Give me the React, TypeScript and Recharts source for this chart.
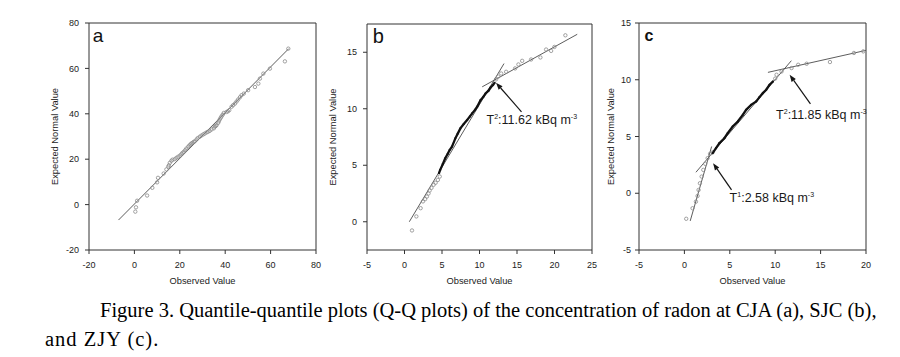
import React from 'react';
import { ScatterChart, Scatter, XAxis, YAxis, ReferenceLine, ReferenceDot } from 'recharts';

const SANS = '"Liberation Sans", Arial, Helvetica, sans-serif';
const SERIF = '"Liberation Serif", "Times New Roman", Times, serif';
const W = 900;
const H = 357;

// ---------- Panel a (CJA) ----------
const aObserved = [0.4, 0.7, 1.2, 5.6, 7.9, 10.0, 10.4, 12.9, 14.1, 14.9, 15.2, 15.6, 16.3, 16.8, 17.8, 18.5, 19.3, 20.1, 20.7, 21.2, 21.8, 22.4, 22.9, 23.7, 24.2, 24.7, 25.1, 25.6, 26.1, 26.6, 27.4, 27.9, 28.8, 29.5, 30.3, 31.0, 31.8, 32.5, 33.2, 34.0, 35.0, 35.4, 35.8, 36.2, 36.9, 37.2, 37.6, 38.0, 38.4, 38.9, 39.4, 40.6, 41.2, 41.8, 42.8, 43.5, 44.3, 45.0, 45.7, 46.5, 47.2, 48.2, 50.1, 53.1, 54.6, 55.3, 56.8, 59.7, 66.3, 67.8];
const aExpected = [-3.1, -1.2, 1.7, 4.0, 7.4, 9.8, 11.8, 13.7, 15.5, 16.7, 17.3, 18.4, 19.3, 19.8, 20.0, 20.6, 21.1, 21.6, 22.2, 22.8, 23.3, 24.0, 24.7, 25.5, 26.0, 26.5, 26.9, 27.2, 27.6, 27.9, 28.7, 29.3, 29.9, 30.4, 30.9, 31.3, 31.8, 32.1, 32.5, 33.1, 33.6, 34.3, 34.6, 35.0, 36.0, 36.7, 37.5, 38.2, 38.9, 39.6, 40.4, 40.8, 41.1, 41.6, 43.1, 43.8, 44.5, 45.4, 46.3, 47.3, 48.2, 48.9, 50.4, 51.8, 53.3, 55.5, 57.7, 59.9, 63.1, 68.7];
const aFits = [{ x1: -7, y1: -6.8, x2: 68, y2: 68.7 }];
const aXTicks = [-20, 0, 20, 40, 60, 80];
const aYTicks = [-20, 0, 20, 40, 60, 80];

// ---------- Panel b (SJC) ----------
const bLowObserved = [1.0, 1.58, 2.15, 2.46, 2.75, 2.99, 3.2, 3.35, 3.6, 3.88, 4.15, 4.45, 4.7];
const bLowExpected = [-0.77, 0.47, 1.2, 1.8, 2.0, 2.23, 2.5, 2.76, 3.0, 3.27, 3.45, 3.7, 4.0];
const bDenseObserved = [4.6, 4.76, 5.1, 5.43, 5.75, 6.02, 6.33, 6.78, 7.1, 7.45, 7.9, 8.35, 8.7, 9.02, 9.4, 9.69, 10.14, 10.5, 10.81, 11.2, 11.48, 11.8, 12.02];
const bDenseExpected = [4.3, 4.59, 5.1, 5.62, 6.0, 6.35, 6.65, 7.38, 7.8, 8.26, 8.65, 9.0, 9.3, 9.59, 9.9, 10.18, 10.76, 11.05, 11.35, 11.6, 11.88, 12.1, 12.29];
const bHighObserved = [12.2, 12.5, 12.89, 13.55, 14.75, 15.19, 15.69, 16.88, 18.12, 18.88, 19.55, 19.99, 21.45];
const bHighExpected = [12.6, 12.85, 13.12, 13.27, 13.57, 13.92, 14.24, 14.36, 14.54, 15.24, 15.12, 15.47, 16.5];
const bFits = [
  { x1: 0.64, y1: 0, x2: 13.27, y2: 14.0 },
  { x1: 10.36, y1: 11.94, x2: 23.03, y2: 16.59 },
];
const bArrows = [{ x1: 15.6, y1: 9.73, x2: 12.2, y2: 12.3 }];
const bNotes = [{ sup: '2', value: '11.62', x: 10.94, y: 8.65 }];
const bXTicks = [-5, 0, 5, 10, 15, 20, 25];
const bYTicks = [0, 5, 10, 15];

// ---------- Panel c (ZJY) ----------
const cLowObserved = [0.2, 0.9, 1.27, 1.45, 1.56, 1.71, 1.9, 2.08, 2.3, 2.56, 2.82, 3.1];
const cLowExpected = [-2.25, -1.32, -0.74, -0.24, 0.29, 0.88, 1.47, 2.06, 2.59, 3.09, 3.47, 3.6];
const cDenseObserved = [3.11, 3.48, 3.85, 4.4, 4.77, 5.32, 5.88, 6.43, 6.8, 7.35, 7.91, 8.27, 8.64, 9.01, 9.38, 9.75];
const cDenseExpected = [3.53, 3.97, 4.41, 4.85, 5.29, 5.88, 6.32, 6.91, 7.35, 7.79, 8.09, 8.47, 8.82, 9.12, 9.56, 9.85];
const cHighObserved = [10.0, 10.15, 10.7, 11.8, 12.53, 13.46, 16.03, 18.67, 19.7];
const cHighExpected = [10.1, 10.44, 10.73, 11.03, 11.32, 11.41, 11.56, 12.36, 12.5];
const cFits = [
  { x1: 0.64, y1: -2.44, x2: 3.0, y2: 4.12 },
  { x1: 1.27, y1: 1.85, x2: 11.78, y2: 11.68 },
  { x1: 9.2, y1: 10.65, x2: 20, y2: 12.59 },
];
const cArrows = [
  { x1: 13.88, y1: 7.88, x2: 11.59, y2: 10.44 },
  { x1: 5.19, y1: 0.29, x2: 3.16, y2: 2.65 },
];
const cNotes = [
  { sup: '2', value: '11.85', x: 10.1, y: 6.5 },
  { sup: '1', value: '2.58', x: 4.98, y: -0.8 },
];
const cXTicks = [-5, 0, 5, 10, 15, 20];
const cYTicks = [-5, 0, 5, 10, 15];

const captionLine1 = 'Figure 3. Quantile-quantile plots (Q-Q plots) of the concentration of radon at CJA (a), SJC (b),';
const captionLine2 = 'and ZJY (c).';

type P = { x: number; y: number };
const zip = (xs: number[], ys: number[]): P[] => xs.map((x, i) => ({ x, y: ys[i] }));

const GrayDot = (p: any) => (
  <circle cx={p.cx} cy={p.cy} r={1.7} fill="none" stroke="#8a8a8a" strokeWidth={0.8} />
);
const DarkDot = (p: any) => <circle cx={p.cx} cy={p.cy} r={1.1} fill="#111" />;

const ArrowShape = (p: any) => {
  const { x1, y1, x2, y2 } = p;
  const dx = x2 - x1;
  const dy = y2 - y1;
  const len = Math.hypot(dx, dy) || 1;
  const ux = dx / len;
  const uy = dy / len;
  const hl = 7;
  const hw = 2.6;
  const bx = x2 - ux * hl;
  const by = y2 - uy * hl;
  const pts = `${x2},${y2} ${bx - uy * hw},${by + ux * hw} ${bx + uy * hw},${by - ux * hw}`;
  return (
    <g>
      <line x1={x1} y1={y1} x2={bx} y2={by} stroke="#151515" strokeWidth={1.2} />
      <polygon points={pts} fill="#151515" />
    </g>
  );
};

const noteShape = (sup: string, value: string) => (p: any) => (
  <text x={p.cx} y={p.cy} fontFamily={SANS} fontSize={12.5} fill="#1a1a1a">
    <tspan>T</tspan>
    <tspan fontSize={7} dy={-5}>{sup}</tspan>
    <tspan dy={5}>{`:${value} kBq m`}</tspan>
    <tspan fontSize={7} dy={-5}>-3</tspan>
  </text>
);

const letterShape = (letter: string, size: number, weight: number) => (p: any) => (
  <text x={p.cx} y={p.cy} fontFamily={SANS} fontSize={size} fontWeight={weight} fill="#111">
    {letter}
  </text>
);

const XTitle = (props: any) => (
  <text x={props.cxPos} y={props.baseY} textAnchor="middle" fontFamily={SANS} fontSize={9.3} fill="#222">
    Observed Value
  </text>
);
const YTitle = (props: any) => (
  <text
    x={props.cxPos}
    y={props.cyPos}
    transform={`rotate(-90 ${props.cxPos} ${props.cyPos})`}
    textAnchor="middle"
    dy="0.35em"
    fontFamily={SANS}
    fontSize={9.3}
    fill="#222"
  >
    Expected Normal Value
  </text>
);

interface Panel {
  id: string;
  letter: string;
  letterPos: [number, number];
  letterSize: number;
  letterWeight: number;
  plot: { l: number; r: number; t: number; b: number };
  xDomain: [number, number];
  yDomain: [number, number];
  xTicks: number[];
  yTicks: number[];
  gray: P[][];
  dense: P[][];
  fits: { x1: number; y1: number; x2: number; y2: number }[];
  arrows: { x1: number; y1: number; x2: number; y2: number }[];
  notes: { sup: string; value: string; x: number; y: number }[];
  yTitleX: number;
  yTickMargin: number;
}

const panels: Panel[] = [
  {
    id: 'a', letter: 'a', letterPos: [-18.4, 71.6], letterSize: 19, letterWeight: 400,
    plot: { l: 89, r: 316, t: 23, b: 250 },
    xDomain: [-20, 80], yDomain: [-20, 80], xTicks: aXTicks, yTicks: aYTicks,
    gray: [zip(aObserved, aExpected)], dense: [], fits: aFits, arrows: [], notes: [],
    yTitleX: 55, yTickMargin: 6,
  },
  {
    id: 'b', letter: 'b', letterPos: [-4.24, 15.8], letterSize: 20, letterWeight: 400,
    plot: { l: 367, r: 592, t: 24, b: 250 },
    xDomain: [-5, 25], yDomain: [-2.5, 17.5], xTicks: bXTicks, yTicks: bYTicks,
    gray: [zip(bLowObserved, bLowExpected), zip(bHighObserved, bHighExpected)],
    dense: [zip(bDenseObserved, bDenseExpected)], fits: bFits, arrows: bArrows, notes: bNotes,
    yTitleX: 333, yTickMargin: 6,
  },
  {
    id: 'c', letter: 'c', letterPos: [-4.4, 13.4], letterSize: 16, letterWeight: 700,
    plot: { l: 639, r: 866, t: 23, b: 250 },
    xDomain: [-5, 20], yDomain: [-5, 15], xTicks: cXTicks, yTicks: cYTicks,
    gray: [zip(cLowObserved, cLowExpected), zip(cHighObserved, cHighExpected)],
    dense: [zip(cDenseObserved, cDenseExpected)], fits: cFits, arrows: cArrows, notes: cNotes,
    yTitleX: 611, yTickMargin: 4,
  },
];

const YW = 50;
const XH = 40;

function PanelChart({ cfg }: { cfg: Panel }) {
  const { plot } = cfg;
  const margin = { top: plot.t, left: plot.l - YW, right: W - plot.r, bottom: H - plot.b - XH };
  const tick = { fill: '#222', fontSize: 9, fontFamily: SANS };
  return (
    <div style={{ position: 'absolute', left: 0, top: 0 }}>
      <ScatterChart width={W} height={H} margin={margin}>
        <XAxis
          type="number"
          dataKey="x"
          domain={cfg.xDomain}
          ticks={cfg.xTicks}
          interval={0}
          allowDataOverflow
          height={XH}
          tickSize={4}
          tickMargin={8}
          stroke="#333"
          tick={tick}
          label={<XTitle cxPos={(plot.l + plot.r) / 2} baseY={284} />}
        />
        <YAxis
          type="number"
          dataKey="y"
          domain={cfg.yDomain}
          ticks={cfg.yTicks}
          interval={0}
          allowDataOverflow
          width={YW}
          tickSize={4}
          tickMargin={cfg.yTickMargin}
          stroke="#333"
          tick={tick}
          label={<YTitle cxPos={cfg.yTitleX} cyPos={(plot.t + plot.b) / 2} />}
        />
        <ReferenceLine y={cfg.yDomain[1]} stroke="#333" strokeWidth={1} />
        <ReferenceLine x={cfg.xDomain[1]} stroke="#333" strokeWidth={1} />
        {cfg.gray.map((d, i) => (
          <Scatter key={`g${i}`} data={d} shape={GrayDot} isAnimationActive={false} />
        ))}
        {cfg.dense.map((d, i) => (
          <Scatter
            key={`d${i}`}
            data={d}
            shape={DarkDot}
            line={{ stroke: '#111', strokeWidth: 2.3 }}
            isAnimationActive={false}
          />
        ))}
        {cfg.fits.map((f, i) => (
          <ReferenceLine
            key={`f${i}`}
            segment={[{ x: f.x1, y: f.y1 }, { x: f.x2, y: f.y2 }]}
            stroke="#4a4a4a"
            strokeWidth={0.9}
          />
        ))}
        {cfg.arrows.map((a, i) => (
          <ReferenceLine
            key={`a${i}`}
            segment={[{ x: a.x1, y: a.y1 }, { x: a.x2, y: a.y2 }]}
            shape={ArrowShape}
          />
        ))}
        {cfg.notes.map((n, i) => (
          <ReferenceDot key={`n${i}`} x={n.x} y={n.y} r={0} shape={noteShape(n.sup, n.value)} />
        ))}
        <ReferenceDot
          x={cfg.letterPos[0]}
          y={cfg.letterPos[1]}
          r={0}
          shape={letterShape(cfg.letter, cfg.letterSize, cfg.letterWeight)}
        />
      </ScatterChart>
    </div>
  );
}

export default function App() {
  const capStyle: React.CSSProperties = {
    position: 'absolute',
    fontFamily: SERIF,
    fontSize: 20.5,
    lineHeight: '29px',
    whiteSpace: 'nowrap',
    color: '#000',
  };
  return (
    <div style={{ position: 'absolute', left: 0, top: 0, width: W, height: H, background: '#fff', overflow: 'hidden' }}>
      {panels.map((p) => (
        <PanelChart key={p.id} cfg={p} />
      ))}
      <div style={{ ...capStyle, left: 100, top: 296 }}>{captionLine1}</div>
      <div style={{ ...capStyle, left: 45, top: 325, letterSpacing: '1px' }}>{captionLine2}</div>
    </div>
  );
}
